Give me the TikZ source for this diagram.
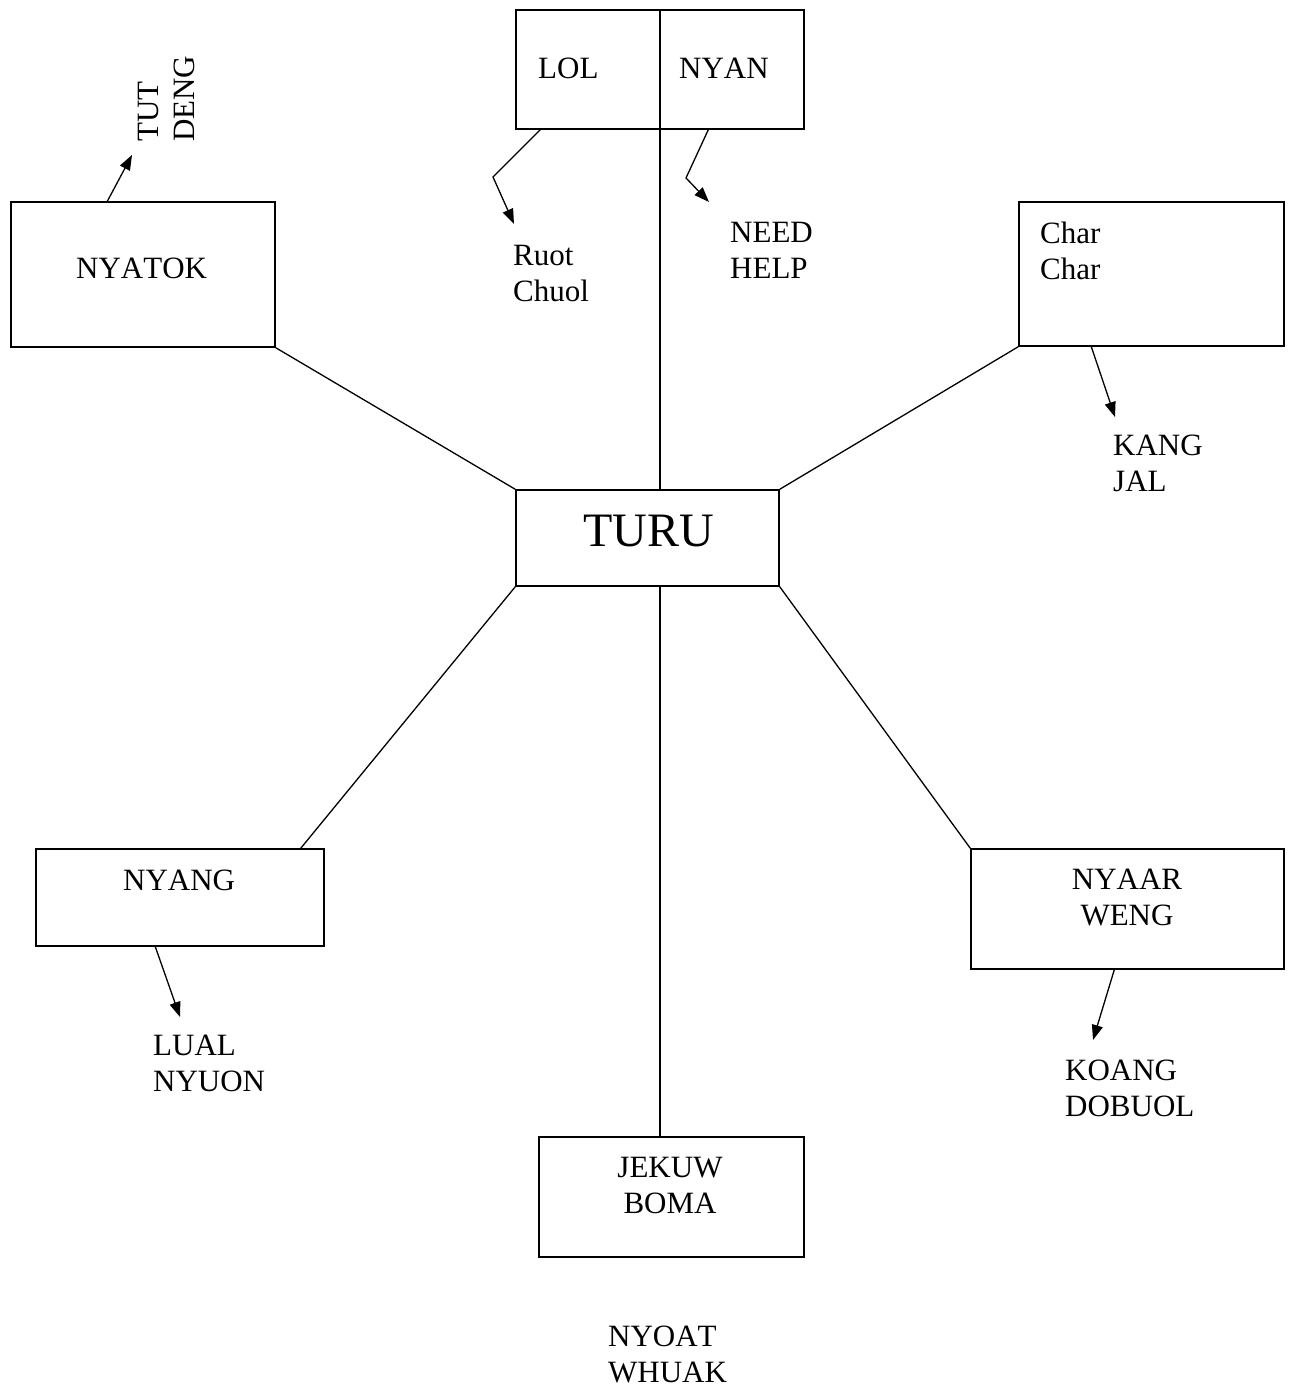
\documentclass[tikz,border=0pt]{standalone}
\usepackage{fontspec}
\setmainfont{Liberation Serif}[Kerning=Off]
\usetikzlibrary{arrows.meta,calc}
\newcommand\mlines[1]{\begin{tabular}[t]{@{}l@{}}#1\end{tabular}}
\newcommand\mclines[1]{\begin{tabular}[t]{@{}c@{}}#1\end{tabular}}
\begin{document}
\begin{tikzpicture}[x=1pt,y=-1pt,
  box/.style={draw, rectangle, inner sep=0pt, line width=1.4pt},
  txt/.style={inner sep=0pt, anchor=base west, font=\fontsize{31}{36.5}\selectfont},
  ctxt/.style={inner sep=0pt, anchor=base, font=\fontsize{31}{36.5}\selectfont},
  link/.style={line width=1.3pt},
  arr/.style={line width=1.3pt, -{Triangle[length=15pt,width=11pt]}}]
\fill[white] (0,0) rectangle (1293,1389);
\useasboundingbox (0,0) rectangle (1293,1389);

% boxes
\node[box, minimum width=288pt, minimum height=119pt] (top) at (660,69.5) {};
\node[box, minimum width=264pt, minimum height=145pt] (nyatok) at (143,274.5) {};
\node[box, minimum width=265pt, minimum height=144pt] (char) at (1151.5,274) {};
\node[box, minimum width=263pt, minimum height=96pt] (turu) at (647.5,538) {};
\node[box, minimum width=288pt, minimum height=97pt] (nyang) at (180,897.5) {};
\node[box, minimum width=313pt, minimum height=120pt] (nyaar) at (1127.5,909) {};
\node[box, minimum width=265pt, minimum height=120pt] (jekuw) at (671.5,1197) {};

% texts
\node[txt] (lol) at (538,78) {LOL};
\node[txt] (nyan) at (679,78) {NYAN};
\node[txt] (nyatoktxt) at (76,278) {NYATOK};
\node[txt, rotate=90] (tutdeng) at (158,142) {\mlines{TUT\\DENG}};
\node[txt] (ruot) at (513,265) {\mlines{Ruot\\Chuol}};
\node[txt] (need) at (730,242) {\mlines{NEED\\HELP}};
\node[txt] (chartxt) at (1040,243) {\mlines{Char\\Char}};
\node[txt] (kang) at (1113,455) {\mlines{KANG\\JAL}};
\node[inner sep=0pt, anchor=base west, font=\fontsize{48}{56}\selectfont] (turutxt) at (583,546) {TURU};
\node[txt] (nyangtxt) at (123,890) {NYANG};
\node[txt] (lual) at (153,1055) {\mlines{LUAL\\NYUON}};
\node[ctxt] (nyaartxt) at (1127,889) {\mclines{NYAAR\\WENG}};
\node[txt] (koang) at (1065,1080) {\mlines{KOANG\\DOBUOL}};
\node[ctxt] (jekuwtxt) at (670,1177) {\mclines{JEKUW\\BOMA}};
\node[txt] (nyoat) at (608,1346) {\mlines{NYOAT\\WHUAK}};

% connectors between boxes
\draw[link] (top.north) -- (top.north |- turu.north);
\draw[link] (turu.south -| top.north) -- (jekuw.north -| top.north);
\draw[link] (nyatok.south east) -- (turu.north west);
\draw[link] (char.south west) -- (turu.north east);
\draw[link] (turu.south west) -- ($(nyang.north east)+(-24,0)$);
\draw[link] (turu.south east) -- (nyaar.north west);

% arrows to labels
\coordinate (tdtip) at (132,155);
\coordinate (lolbend) at (493,177);
\coordinate (loltip) at (514,224);
\coordinate (nyanbend) at (686,178);
\coordinate (nyantip) at (709,202);
\coordinate (chartip) at (1115,417);
\coordinate (nyangtip) at (180,1017);
\coordinate (nyaartip) at (1093,1040);
\draw[arr] ($(nyatok.north west)+(97,0)$) -- (tdtip);
\draw[arr] ($(top.south west)+(25,0)$) -- (lolbend) -- (loltip);
\draw[arr] ($(top.south west)+(193,0)$) -- (nyanbend) -- (nyantip);
\draw[arr] ($(char.south west)+(73,0)$) -- (chartip);
\draw[arr] ($(nyang.south west)+(120,0)$) -- (nyangtip);
\draw[arr] ($(nyaar.south west)+(144,0)$) -- (nyaartip);
\end{tikzpicture}
\end{document}
